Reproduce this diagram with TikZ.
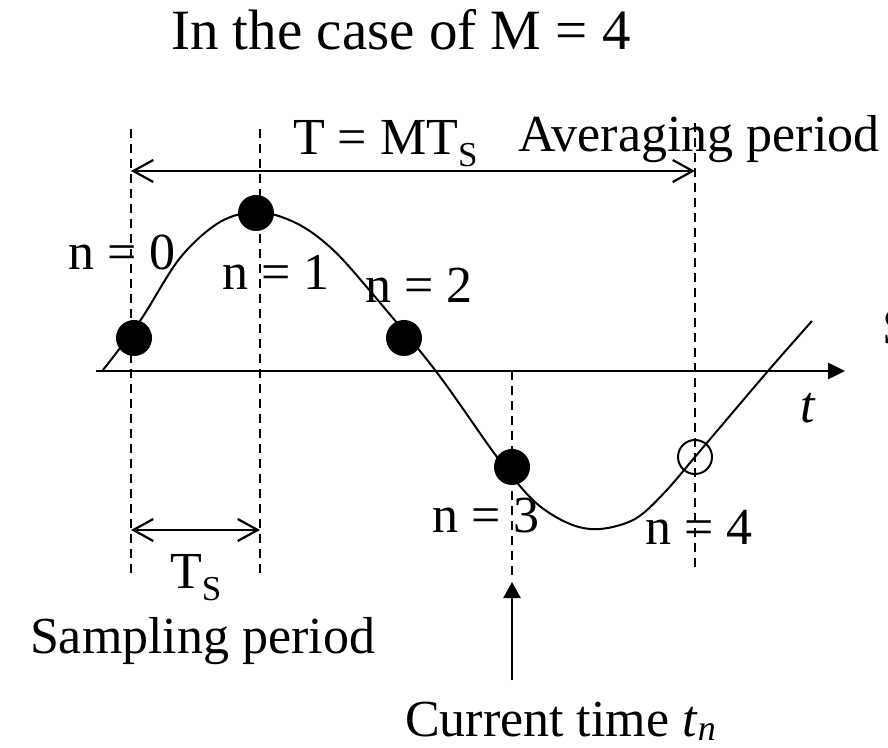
\documentclass[tikz,border=0pt]{standalone}
\usepackage{fontspec}
\setmainfont{Liberation Serif}
\usetikzlibrary{arrows.meta}
\begin{document}
\begin{tikzpicture}[x=1pt,y=1pt,
  lbl/.style={inner sep=0pt, outer sep=0pt, anchor=base west, font=\fontsize{52}{52}\selectfont},
  guide/.style={line width=2pt, dash pattern=on 9pt off 6pt},
  span/.style={line width=2.2pt, {Straight Barb[length=20pt,width=22pt]}-{Straight Barb[length=20pt,width=22pt]}},
  dot/.style={circle, fill=black, minimum size=36pt, inner sep=0pt, outer sep=0pt},
  odot/.style={circle, draw=black, line width=2pt, minimum size=34pt, inner sep=0pt, outer sep=0pt},
  axisline/.style={line width=2.5pt, -{Triangle[length=17pt,width=16pt]}},
  wave/.style={line width=2pt}
]
\useasboundingbox (0,0) rectangle (888,747);

% guides
\coordinate (g0t) at (131,618); \coordinate (g0b) at (131,169);
\coordinate (g1t) at (260,618); \coordinate (g1b) at (260,169);
\coordinate (g3t) at (512,376); \coordinate (g3b) at (512,170);
\coordinate (g4t) at (695,624); \coordinate (g4b) at (695,175);
\draw[guide] (g0t) -- (g0b);
\draw[guide] (g1t) -- (g1b);
\draw[guide] (g3t) -- (g3b);
\draw[guide] (g4t) -- (g4b);

% axis
\coordinate (ax0) at (96,376); \coordinate (ax1) at (845,376);
\draw[axisline] (ax0) -- (ax1);

% waveform
\draw[wave] plot[smooth, tension=0.55] coordinates {
 (103,377) (140,426) (180,489) (220,525) (258,535) (296,524) (330,500)
 (365,462) (435,377) (497,290) (535,245) (570,223) (600,218) (635,228)
 (665,255) (700,296) (768,376) (812,426)};

% samples
\node[dot] (s0) at (134,409) {};
\node[dot] (s1) at (256,534) {};
\node[dot] (s2) at (404,409) {};
\node[dot] (s3) at (512,280) {};
\node[odot] (s4) at (695,290) {};

% spans
\coordinate (Tl) at (131,576); \coordinate (Tr) at (695,576);
\draw[span] (Tl) -- (Tr);
\coordinate (tsl) at (131,217); \coordinate (tsr) at (260,217);
\draw[span] (tsl) -- (tsr);

% current time arrow
\coordinate (cta) at (512,67); \coordinate (ctb) at (512,165);
\draw[line width=2.2pt, -{Triangle[length=16pt,width=17pt]}] (cta) -- (ctb);

% labels
\node[lbl, anchor=base, font=\fontsize{57}{57}\selectfont] (title) at (401,697) {In the case of M = 4};
\node[lbl] (Tlab) at (293,592) {T = MT\raisebox{-12pt}{\fontsize{35}{35}\selectfont S}};
\node[lbl] (avg) at (518,595) {Averaging period};
\node[lbl] (n0) at (68,477) {n = 0};
\node[lbl] (n1) at (222,457) {n = 1};
\node[lbl] (n2) at (365,444) {n = 2};
\node[lbl] (n3) at (432,214) {n = 3};
\node[lbl] (n4) at (645,202) {n = 4};
\node[lbl] (tax) at (800,324) {\textit{t}};
\node[lbl] (Ts) at (170,159) {T\raisebox{-12pt}{\fontsize{35}{35}\selectfont S}};
\node[lbl] (samp) at (30,94) {Sampling period};
\node[lbl] (cur) at (405,11) {Current time \textit{t}\raisebox{-4pt}{\fontsize{36}{36}\selectfont\textit{n}}};
\node[lbl] (sig) at (882,402) {S};
\end{tikzpicture}
\end{document}
